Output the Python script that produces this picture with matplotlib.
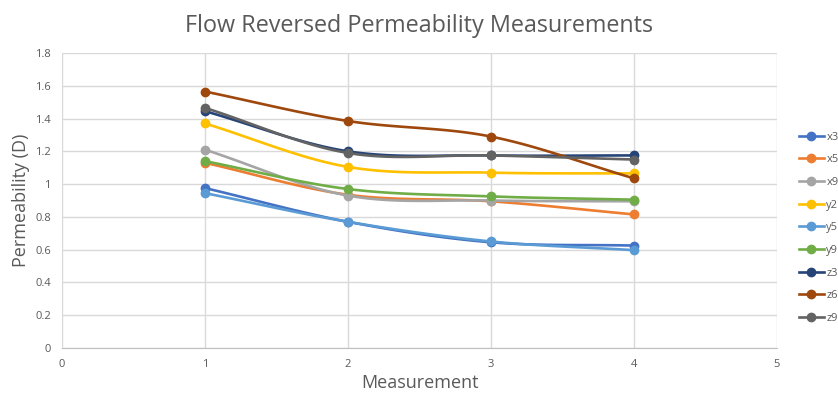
import matplotlib
matplotlib.use("Agg")
import matplotlib.pyplot as plt
import numpy as np

plt.rcParams['font.family'] = ['Open Sans', 'DejaVu Sans']

measurement = [1, 2, 3, 4]
labels = ["x3", "x5", "x9", "y2", "y5", "y9", "z3", "z6", "z9"]
x3 = [0.976, 0.770, 0.645, 0.625]
x5 = [1.130, 0.935, 0.895, 0.815]
x9 = [1.210, 0.930, 0.900, 0.895]
y2 = [1.370, 1.105, 1.070, 1.065]
y5 = [0.945, 0.770, 0.650, 0.597]
y9 = [1.140, 0.970, 0.925, 0.905]
z3 = [1.445, 1.200, 1.175, 1.175]
z6 = [1.565, 1.385, 1.290, 1.035]
z9 = [1.465, 1.190, 1.175, 1.150]
series = [x3, x5, x9, y2, y5, y9, z3, z6, z9]
colors = ["#4472C4", "#ED7D31", "#A5A5A5", "#FFC000", "#5B9BD5",
          "#70AD47", "#264478", "#9E480E", "#636363"]


def smooth(xs, ys, n=30):
    # Catmull-Rom style curve through the points, like Excel's smoothed lines
    xs = np.asarray(xs, float)
    ys = np.asarray(ys, float)
    px = np.concatenate([[2 * xs[0] - xs[1]], xs, [2 * xs[-1] - xs[-2]]])
    py = np.concatenate([[2 * ys[0] - ys[1]], ys, [2 * ys[-1] - ys[-2]]])
    ox, oy = [], []
    t = np.linspace(0, 1, n)
    for i in range(1, len(px) - 2):
        for arr, out in ((px, ox), (py, oy)):
            p0, p1, p2, p3 = arr[i - 1], arr[i], arr[i + 1], arr[i + 2]
            out.extend(0.5 * (2 * p1 + (-p0 + p2) * t
                              + (2 * p0 - 5 * p1 + 4 * p2 - p3) * t ** 2
                              + (-p0 + 3 * p1 - 3 * p2 + p3) * t ** 3))
    return ox, oy


fig = plt.figure(figsize=(8.38, 3.95), dpi=100)
ax = fig.add_axes([62 / 838, 47 / 395, 715 / 838, 295 / 395])

for lab, vals, c in zip(labels, series, colors):
    sx, sy = smooth(measurement, vals)
    ax.plot(sx, sy, color=c, lw=1.9, solid_capstyle="round")
    ax.plot(measurement, vals, "o", color=c, ms=6)
    ax.plot([], [], "-o", color=c, lw=1.9, ms=6, label=lab)

ax.set_xlim(0, 5)
ax.set_ylim(0, 1.8)
ax.set_xticks(range(0, 6))
ax.set_yticks(np.arange(0, 1.81, 0.2))
ax.set_yticklabels(["0", "0.2", "0.4", "0.6", "0.8", "1", "1.2", "1.4", "1.6", "1.8"])
ax.grid(True, color="#D9D9D9", lw=1)
ax.set_axisbelow(True)
for s in ["top", "right", "left"]:
    ax.spines[s].set_visible(False)
ax.spines["bottom"].set_color("#BFBFBF")
ax.tick_params(length=0, labelsize=8, colors="#595959", pad=8)

ax.set_xlabel("Measurement", fontsize=13, color="#595959", labelpad=3)
ax.set_ylabel("Permeability (D)", fontsize=13, color="#595959", labelpad=4)
fig.suptitle("Flow Reversed Permeability Measurements", fontsize=16.8,
             color="#595959", y=0.965)

ax.legend(loc="upper left", bbox_to_anchor=(793 / 838, 1 - 126 / 395),
          bbox_transform=fig.transFigure, frameon=False, fontsize=8,
          labelcolor="#595959", handlelength=2.3, labelspacing=1.05,
          borderpad=0, handletextpad=0.2)

fig.savefig("out.png", dpi=100)
